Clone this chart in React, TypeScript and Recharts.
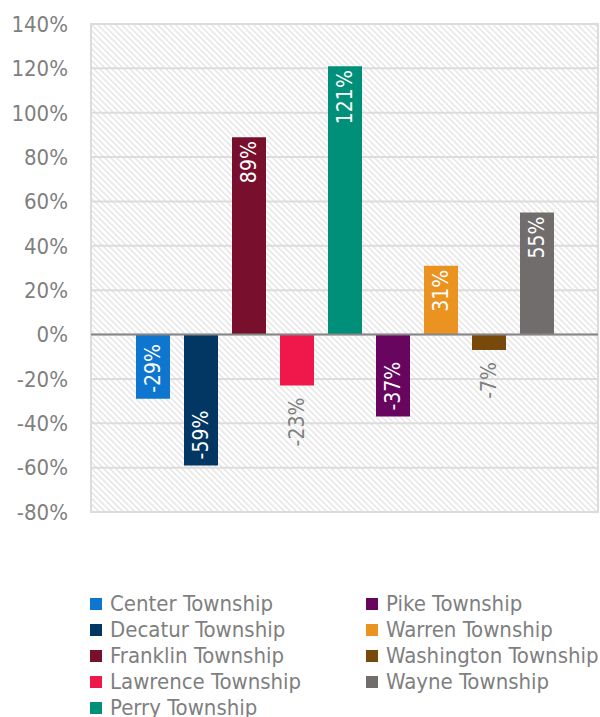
import React from 'react';
import { BarChart, Bar, XAxis, YAxis, CartesianGrid, ReferenceLine, ReferenceArea } from 'recharts';

const townships = [
  'Center Township',
  'Decatur Township',
  'Franklin Township',
  'Lawrence Township',
  'Perry Township',
  'Pike Township',
  'Warren Township',
  'Washington Township',
  'Wayne Township',
];
const changes = [-29, -59, 89, -23, 121, -37, 31, -7, 55];
const colors = ['#0e76cf', '#023763', '#780f2d', '#f0174b', '#00907a', '#68055f', '#eb9320', '#774a0c', '#716d6c'];
const yTicks = [-80, -60, -40, -20, 0, 20, 40, 60, 80, 100, 120, 140];

const keys = townships.map((_, i) => `t${i}`);
const data = [Object.fromEntries([['name', 'All'], ...keys.map((k, i) => [k, changes[i]])])];

const FONT = "'DejaVu Sans Condensed', 'DejaVu Sans', sans-serif";
const GRAY = '#7f7f7f';

const BarLabel = (props: any) => {
  const { x, y, width, height, value } = props;
  const top = Math.min(y, y + height);
  const bottom = Math.max(y, y + height);
  const len = bottom - top;
  const cx = x + width / 2;
  const fits = len >= 60;
  const text = `${value}%`;
  let ay: number;
  let anchor: 'start' | 'end';
  if (value >= 0) {
    ay = top + 4;
    anchor = 'end';
  } else if (fits) {
    ay = bottom - 6;
    anchor = 'start';
  } else {
    ay = bottom + 12;
    anchor = 'end';
  }
  return (
    <text
      x={cx}
      y={ay}
      transform={`rotate(-90, ${cx}, ${ay})`}
      textAnchor={anchor}
      dominantBaseline="central"
      fill={fits ? '#ffffff' : GRAY}
      fontSize={21}
      fontFamily={FONT}
    >
      {text}
    </text>
  );
};

export default function App() {
  const col1 = townships.slice(0, 5);
  const col2 = townships.slice(5);
  const legendItem = (name: string, i: number) => (
    <div key={name} style={{ display: 'flex', alignItems: 'center', height: 26 }}>
      <span style={{ width: 12, height: 12, background: colors[i], marginRight: 8, display: 'inline-block' }} />
      <span style={{ color: GRAY, fontSize: 22, fontFamily: FONT, lineHeight: '26px', whiteSpace: 'nowrap' }}>{name}</span>
    </div>
  );
  return (
    <div style={{ position: 'absolute', left: 0, top: 0, width: 600, height: 717, background: '#fff', overflow: 'hidden' }}>
      <BarChart
        width={600}
        height={717}
        data={data}
        margin={{ top: 24, right: 2, bottom: 205, left: 0 }}
        barSize={34}
        barGap={14}
      >
        <defs>
          <pattern id="hatch" patternUnits="userSpaceOnUse" width="4.24" height="4.24" patternTransform="rotate(-45)">
            <rect width="4.24" height="4.24" fill="#ffffff" />
            <line x1="0.6" y1="0" x2="0.6" y2="4.24" stroke="#e0e0e0" strokeWidth="1.3" />
          </pattern>
        </defs>
        <CartesianGrid vertical={false} fill="url(#hatch)" stroke="#dcdcdc" strokeWidth={2} />
        <ReferenceArea y1={-80} y2={140} fill="none" stroke="#dcdcdc" strokeWidth={2} ifOverflow="visible" />
        <XAxis dataKey="name" hide />
        <YAxis
          domain={[-80, 140]}
          ticks={yTicks}
          interval={0}
          width={91}
          axisLine={false}
          tickLine={false}
          tickSize={0}
          tickMargin={23}
          tickFormatter={(v: number) => `${v}%`}
          tick={{ fill: GRAY, fontSize: 22, fontFamily: FONT }}
        />
        <ReferenceLine y={0} stroke="#868686" strokeWidth={2} />
        {keys.map((k, i) => (
          <Bar key={k} dataKey={k} name={townships[i]} fill={colors[i]} isAnimationActive={false} label={BarLabel} />
        ))}
      </BarChart>
      <div style={{ position: 'absolute', left: 90, top: 591, display: 'flex' }}>
        <div style={{ width: 276 }}>{col1.map((n, i) => legendItem(n, i))}</div>
        <div>{col2.map((n, i) => legendItem(n, i + 5))}</div>
      </div>
    </div>
  );
}
